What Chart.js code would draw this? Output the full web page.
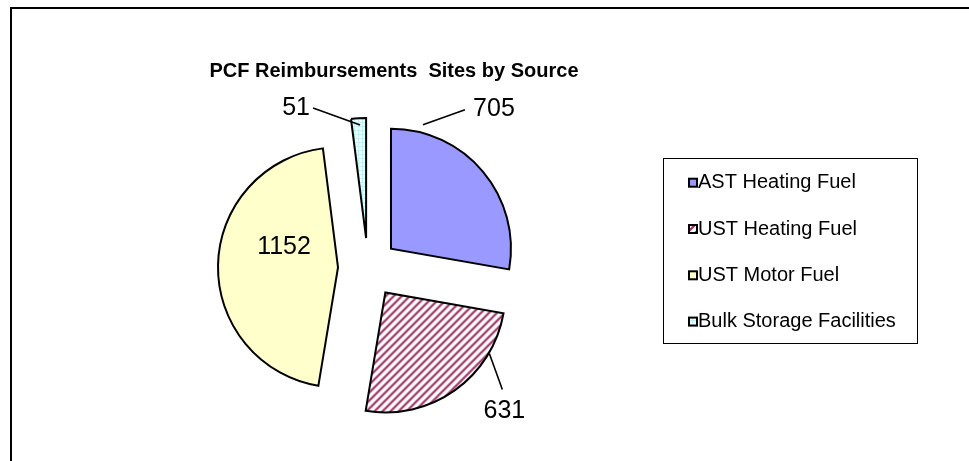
<!DOCTYPE html>
<html>
<head>
<meta charset="utf-8">
<script src="https://cdn.jsdelivr.net/npm/chart.js@4/dist/chart.umd.min.js"></script>
<style>
  body { margin: 0; background: #fff; }
  #frame { position: absolute; left: 10px; top: 7px; width: 1000px; height: 500px;
           border-top: 2px solid #000; border-left: 2px solid #000; }
  #pieChart { position: absolute; left: 0; top: 0; }
</style>
</head>
<body>
<div id="frame"></div>
<canvas id="pieChart" width="969" height="461"></canvas>
<script>
const chartTitle = 'PCF Reimbursements  Sites by Source';
const sources = ['AST Heating Fuel', 'UST Heating Fuel', 'UST Motor Fuel', 'Bulk Storage Facilities'];
const sites = [705, 631, 1152, 51];

// where each value label sits, relative to the tip of its (exploded) slice
const labelSpots = [
  { line: [[32, -124], [74, -139]], text: [103, -140] },
  { line: [[104, 61], [117, 97]], text: [119, 119] },
  { line: null, text: [-54, -20] },
  { line: [[-6, -113], [-53, -130]], text: [-70, -130] }
];

const EXPLODE = 30;
const FONT = 'Arial, "Liberation Sans", sans-serif';

function stripes(bg, fg) {
  const n = 8;
  const c = document.createElement('canvas');
  c.width = c.height = n;
  const g = c.getContext('2d');
  g.fillStyle = bg;
  g.fillRect(0, 0, n, n);
  g.strokeStyle = fg;
  g.lineWidth = 2.2;
  g.beginPath();
  g.moveTo(-1, n + 1); g.lineTo(n + 1, -1);
  g.moveTo(-2, 2); g.lineTo(2, -2);
  g.moveTo(n - 2, n + 2); g.lineTo(n + 2, n - 2);
  g.stroke();
  return g.createPattern(c, 'repeat');
}

function grid(bg, fg) {
  const c = document.createElement('canvas');
  c.width = c.height = 4;
  const g = c.getContext('2d');
  g.fillStyle = bg;
  g.fillRect(0, 0, 4, 4);
  g.fillStyle = fg;
  g.fillRect(0, 0, 4, 1);
  g.fillRect(0, 0, 1, 4);
  return g.createPattern(c, 'repeat');
}

const ctx = document.getElementById('pieChart').getContext('2d');
const fills = ['#9999FF', stripes('#FFFFFF', '#993366'), '#FFFFCC', grid('#E8FFFF', '#BDEFF5')];

function tipOf(arc) {
  const mid = (arc.startAngle + arc.endAngle) / 2;
  return { x: arc.x + Math.cos(mid) * EXPLODE, y: arc.y + Math.sin(mid) * EXPLODE };
}

// pull every slice out from the centre like the exploded Excel pie
const explode = {
  id: 'explode',
  afterDatasetUpdate(chart, args) {
    args.meta.data.forEach(arc => {
      arc.draw = function (c) {
        const mid = (this.startAngle + this.endAngle) / 2;
        c.save();
        c.translate(Math.cos(mid) * EXPLODE, Math.sin(mid) * EXPLODE);
        Chart.ArcElement.prototype.draw.call(this, c);
        c.restore();
      };
    });
  }
};

const extras = {
  id: 'extras',
  afterDraw(chart) {
    const c = chart.ctx;
    const arcs = chart.getDatasetMeta(0).data;
    const ds = chart.data.datasets[0];
    c.save();

    // title
    c.fillStyle = '#000';
    c.font = 'bold 20px ' + FONT;
    c.textAlign = 'center';
    c.textBaseline = 'alphabetic';
    c.fillText(chartTitle, 394, 77);

    // value labels with leader lines
    c.font = '25px ' + FONT;
    c.textBaseline = 'middle';
    c.strokeStyle = '#000';
    c.lineWidth = 1.6;
    arcs.forEach((arc, i) => {
      const tip = tipOf(arc);
      const spot = labelSpots[i];
      if (spot.line) {
        c.beginPath();
        c.moveTo(tip.x + spot.line[0][0], tip.y + spot.line[0][1]);
        c.lineTo(tip.x + spot.line[1][0], tip.y + spot.line[1][1]);
        c.stroke();
      }
      c.fillText(String(ds.data[i]), tip.x + spot.text[0], tip.y + spot.text[1]);
    });

    // legend
    c.lineWidth = 1;
    c.strokeRect(663.5, 158.5, 254, 185);
    c.font = '20px ' + FONT;
    c.textAlign = 'left';
    chart.data.labels.forEach((name, i) => {
      const y = 182.7 + i * 46.3;
      c.fillStyle = ds.backgroundColor[i];
      c.fillRect(689, y - 4, 8, 8);
      c.lineWidth = 2;
      c.strokeRect(689, y - 4, 8, 8);
      c.fillStyle = '#000';
      c.fillText(name, 698, y);
    });
    c.restore();
  }
};

new Chart(ctx, {
  type: 'pie',
  data: {
    labels: sources,
    datasets: [{
      data: sites,
      backgroundColor: fills,
      borderColor: '#000',
      borderWidth: 2,
      borderJoinStyle: 'miter',
      radius: 120
    }]
  },
  options: {
    responsive: false,
    animation: false,
    layout: { padding: { left: 0, right: 233, top: 75, bottom: 0 } },
    plugins: {
      legend: { display: false },
      title: { display: false },
      tooltip: { enabled: false }
    }
  },
  plugins: [explode, extras]
});
</script>
</body>
</html>
